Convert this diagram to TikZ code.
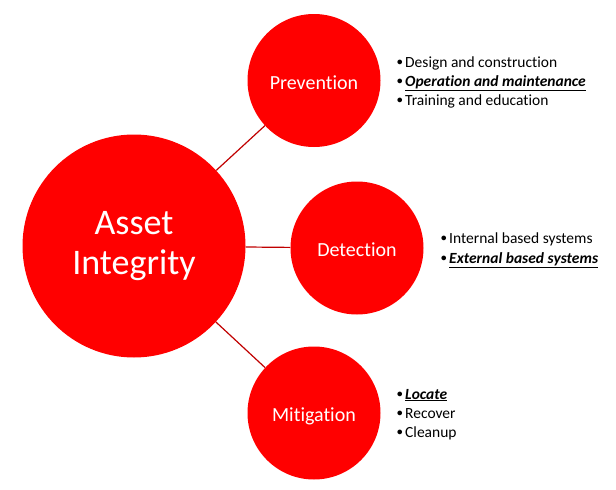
\documentclass[tikz,border=0pt]{standalone}
\usepackage{fontspec}
\setmainfont[Ligatures={NoCommon}]{Carlito}
\definecolor{cred}{HTML}{FF0000}
\definecolor{lred}{HTML}{C00000}
\newcommand{\bul}{\makebox[8pt][l]{\raisebox{1.2pt}{\fontsize{11}{11}\selectfont\textbf{•}}}}
\begin{document}
\begin{tikzpicture}[x=1pt,y=-1pt,
  bubble/.style={circle,fill=cred,draw=none,text=white,inner sep=0pt,align=center},
  link/.style={draw=lred,line width=1.2pt},
  item/.style={anchor=base west,inner sep=0pt,font=\fontsize{15.5}{19}\selectfont,text=black},
]
\useasboundingbox (0,0) rectangle (616,490);
\node[bubble,minimum size=223pt,font=\fontsize{36}{42}\selectfont] (asset) at (134,246) {\raisebox{-2pt}{Asset}\\Integrity};
\node[bubble,minimum size=133pt,font=\fontsize{20}{24}\selectfont,text height=17pt,text depth=0pt] (prev) at (314,80.5) {Prevention};
\node[bubble,minimum size=133pt,font=\fontsize{20}{24}\selectfont,text height=17pt,text depth=0pt] (det) at (357,248) {Detection};
\node[bubble,minimum size=133pt,font=\fontsize{20}{24}\selectfont,text height=17pt,text depth=0pt] (mit) at (314,413) {Mitigation};
\draw[link] (asset) -- (prev);
\draw[link] (asset) -- (det);
\draw[link] (asset) -- (mit);
\node[item] (p1) at (397,67) {\bul Design and construction};
\node[item] (p2) at (397,86) {\bul\underline{\textbf{\textit{Operation and maintenance}}}};
\node[item] (p3) at (397,105) {\bul Training and education};
\node[item] (d1) at (441,243) {\bul Internal based systems};
\node[item] (d2) at (441,263) {\bul\underline{\textbf{\textit{External based systems}}}};
\node[item] (m1) at (397,399) {\bul\underline{\textbf{\textit{Locate}}}};
\node[item] (m2) at (397,418) {\bul Recover};
\node[item] (m3) at (397,437) {\bul Cleanup};
\end{tikzpicture}
\end{document}
